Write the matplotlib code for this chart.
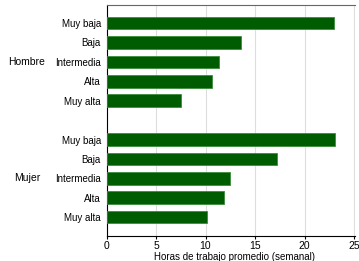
import matplotlib
matplotlib.use("Agg")
import matplotlib.pyplot as plt
import matplotlib.transforms as mtransforms

plt.rcParams['font.family'] = ['Liberation Sans', 'DejaVu Sans']

groups = ["Hombre", "Mujer"]
categories = ["Muy baja", "Baja", "Intermedia", "Alta", "Muy alta"]
hombre = [23.0, 13.6, 11.4, 10.7, 7.5]
mujer = [23.1, 17.2, 12.5, 11.9, 10.2]
xticks = [0, 5, 10, 15, 20, 25]
xlabel = "Horas de trabajo promedio (semanal)"

fig = plt.figure(figsize=(3.59, 2.61), dpi=100)
ax = fig.add_axes([106.5/359, 1 - 236/261, (355-106.5)/359, (236-5)/261])

positions = []
labels = []
values = []
group_centers = []
pos = 0
for gi, (g, vals) in enumerate(zip(groups, [hombre, mujer])):
    start = pos
    for c, v in zip(categories, vals):
        positions.append(pos)
        labels.append(c)
        values.append(v)
        pos += 1
    group_centers.append((start + pos - 1) / 2)
    pos += 1

ax.barh(positions, values, height=0.65, color="#005c00", edgecolor="#3c8c3c", linewidth=0.6, zorder=3)
ax.set_yticks(positions)
ax.set_yticklabels(labels, fontsize=7)
ax.set_ylim(10.97, -0.93)
ax.set_xlim(0, 25.1)
ax.set_xticks(xticks)
ax.set_xticklabels([str(t) for t in xticks], fontsize=7.5)
ax.tick_params(axis='y', length=0, pad=4)
ax.tick_params(axis='x', length=2, pad=1.5, width=0.8)
ax.grid(axis='x', color="#dddddd", linewidth=0.8, zorder=0)
ax.set_axisbelow(True)
ax.spines['right'].set_visible(False)
ax.spines['top'].set_color("#666666")
ax.spines['left'].set_color("black")
ax.spines['bottom'].set_color("black")
ax.set_xlabel(xlabel, fontsize=7, va='center')
ax.xaxis.set_label_coords((235 - 106.5) / 248.5, -20.5 / 231)

trans = mtransforms.blended_transform_factory(fig.transFigure, ax.transData)
for g, yc in zip(groups, group_centers):
    ax.text(27/359, yc, g, transform=trans, ha='center', va='center', fontsize=7.5)

fig.savefig("out.png", dpi=100)
